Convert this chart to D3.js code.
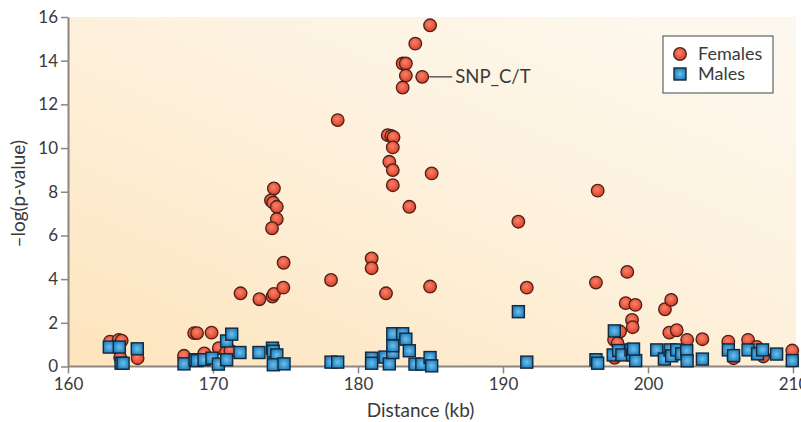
<!DOCTYPE html>
<html>
<head>
<meta charset="utf-8">
<script src="https://cdn.jsdelivr.net/npm/d3@7"></script>
<style>
  body { margin: 0; background: #fff; }
  text { font-family: Lato, "Open Sans", sans-serif; fill: #3a3a3a; }
</style>
</head>
<body>
<div id="chart"></div>
<script>
var svgWidth = 801;
var svgHeight = 422;

var margin = { top: 17, right: 8, bottom: 55, left: 68 };

// females: distance (kb), -log(p)
var femaleX = [162.9, 163.5, 163.7, 163.6, 164.8, 168.0, 168.7, 168.9, 169.9, 169.4, 170.4, 170.9, 171.2,
  171.9, 173.2, 174.1, 174.2, 174.85, 174.2, 174.0, 174.15, 174.4, 174.4, 174.07, 174.87,
  178.6, 178.14, 180.94, 180.94, 181.93, 182.05, 182.3, 182.45, 182.4, 182.16, 182.4, 182.4,
  183.08, 183.3, 183.3, 183.08, 183.54, 183.95, 184.43, 184.97, 185.08, 184.97,
  191.06, 191.64, 196.53, 196.41, 197.66, 197.9, 197.7, 198.07, 198.46, 198.57, 198.9, 198.94, 199.13,
  201.17, 201.47, 201.6, 201.98, 202.7, 203.75, 205.54, 205.9, 206.9, 207.5, 207.95, 209.95];
var femaleY = [1.14, 1.22, 1.18, 0.4, 0.38, 0.49, 1.53, 1.53, 1.55, 0.6, 0.84, 0.64, 0.72,
  3.35, 3.08, 3.2, 3.32, 3.61, 8.15, 7.6, 7.5, 7.31, 6.75, 6.33, 4.75,
  11.28, 3.96, 4.95, 4.5, 3.35, 10.59, 10.55, 10.5, 10.03, 9.37, 8.99, 8.3,
  13.87, 13.87, 13.32, 12.77, 7.31, 14.78, 13.26, 15.62, 8.84, 3.66,
  6.63, 3.61, 8.05, 3.84, 1.22, 1.07, 0.4, 1.6, 2.9, 4.33, 2.13, 1.8, 2.82,
  2.62, 1.55, 3.05, 1.66, 1.22, 1.25, 1.14, 0.38, 1.22, 0.9, 0.46, 0.73];

// males: distance (kb), -log(p)
var maleX = [162.85, 163.54, 163.66, 163.8, 164.78, 168.0, 168.76, 168.9, 169.38, 169.93, 170.37, 170.94,
  170.94, 171.29, 171.86, 173.17, 174.1, 174.15, 174.4, 174.16, 174.9,
  178.14, 178.6, 180.94, 180.94, 181.86, 182.16, 182.4, 182.4, 182.4, 183.08, 183.3, 183.54,
  183.93, 184.4, 184.97, 185.08,
  191.06, 191.64, 196.41, 196.53, 197.68, 197.6, 197.97, 198.2, 198.83, 198.94, 199.15, 199.0,
  200.6, 201.13, 201.52, 201.63, 201.98, 202.32, 202.67, 202.7, 203.75, 205.54, 205.9, 206.9,
  207.56, 207.9, 208.87, 209.95];
var maleY = [0.89, 0.89, 0.15, 0.15, 0.81, 0.12, 0.31, 0.27, 0.31, 0.38, 0.11, 0.31,
  1.17, 1.48, 0.64, 0.64, 0.84, 0.7, 0.53, 0.08, 0.12,
  0.2, 0.2, 0.38, 0.15, 0.43, 0.12, 0.64, 0.95, 1.5, 1.5, 1.25, 0.72,
  0.11, 0.11, 0.41, 0.03,
  2.51, 0.2, 0.31, 0.15, 1.63, 0.53, 0.73, 0.53, 0.76, 0.53, 0.27, 0.8,
  0.76, 0.34, 0.76, 0.49, 0.76, 0.58, 0.72, 0.26, 0.34, 0.76, 0.5, 0.76,
  0.58, 0.76, 0.57, 0.27];

var xTicks = [160, 170, 180, 190, 200, 210];
var yTicks = [0, 2, 4, 6, 8, 10, 12, 14, 16];

var width = 725;
var height = svgHeight - margin.top - margin.bottom - 0.5;

var svg = d3.select("#chart")
  .append("svg")
  .attr("width", svgWidth)
  .attr("height", svgHeight);

var defs = svg.append("defs");

var bg = defs.append("linearGradient").attr("id", "bg")
  .attr("x1", "0").attr("y1", "1").attr("x2", "0.9").attr("y2", "0");
bg.append("stop").attr("offset", "0").attr("stop-color", "#fde4bd");
bg.append("stop").attr("offset", "0.55").attr("stop-color", "#fdf1dc");
bg.append("stop").attr("offset", "1").attr("stop-color", "#fdf8ef");

var redG = defs.append("radialGradient").attr("id", "redG")
  .attr("cx", "0.45").attr("cy", "0.4").attr("r", "0.6");
redG.append("stop").attr("offset", "0").attr("stop-color", "#f8836a");
redG.append("stop").attr("offset", "1").attr("stop-color", "#dc3d26");

var blueG = defs.append("radialGradient").attr("id", "blueG")
  .attr("cx", "0.5").attr("cy", "0.5").attr("r", "0.6");
blueG.append("stop").attr("offset", "0").attr("stop-color", "#6fc0ec");
blueG.append("stop").attr("offset", "1").attr("stop-color", "#1677b8");

var chart = svg.append("g")
  .attr("transform", `translate(${margin.left}, ${margin.top})`);

var x = d3.scaleLinear().domain([160, 210]).range([0, width]);
var y = d3.scaleLinear().domain([0, 16]).range([height, 0]);

chart.append("rect")
  .attr("x", 0).attr("y", 0)
  .attr("width", width + 3)
  .attr("height", height)
  .attr("fill", "url(#bg)");

var xAxis = chart.append("g")
  .attr("transform", `translate(0, ${height})`)
  .call(d3.axisBottom(x).tickValues(xTicks).tickSize(7).tickSizeOuter(0).tickPadding(4));

var yAxis = chart.append("g")
  .call(d3.axisLeft(y).tickValues(yTicks).tickSize(7).tickSizeOuter(0).tickPadding(3));

[xAxis, yAxis].forEach(function(a) {
  a.select(".domain").attr("stroke", "#8c8580").attr("stroke-width", 2);
  a.selectAll(".tick line").attr("stroke", "#8c8580").attr("stroke-width", 1.5);
  a.selectAll(".tick text").attr("font-size", "17px").attr("fill", "#444")
    .style("font-family", "Lato, sans-serif");
});
xAxis.select(".domain").attr("d", `M0,0H${width + 3}`);

var females = femaleX.map((d, i) => ({ x: d, y: femaleY[i] }));
var males = maleX.map((d, i) => ({ x: d, y: maleY[i] }));

chart.selectAll("circle.fem").data(females).enter()
  .append("circle")
  .attr("class", "fem")
  .attr("cx", d => x(d.x))
  .attr("cy", d => y(d.y))
  .attr("r", 6.3)
  .attr("fill", "url(#redG)")
  .attr("stroke", "#4a2018")
  .attr("stroke-width", 1.3);

var sq = 12;
chart.selectAll("rect.male").data(males).enter()
  .append("rect")
  .attr("class", "male")
  .attr("x", d => x(d.x) - sq / 2)
  .attr("y", d => y(d.y) - sq / 2)
  .attr("width", sq)
  .attr("height", sq)
  .attr("fill", "url(#blueG)")
  .attr("stroke", "#14283a")
  .attr("stroke-width", 1.4);

// SNP annotation
var snp = { x: 184.43, y: 13.26 };
chart.append("line")
  .attr("x1", x(snp.x) + 7).attr("x2", x(snp.x) + 30)
  .attr("y1", y(snp.y)).attr("y2", y(snp.y))
  .attr("stroke", "#333").attr("stroke-width", 1.2);
chart.append("text")
  .attr("x", x(snp.x) + 33)
  .attr("y", y(snp.y))
  .attr("dy", "0.35em")
  .attr("font-size", "18.5px")
  .text("SNP_C/T");

// legend
var legend = svg.append("g").attr("transform", "translate(663, 36)");
legend.append("rect")
  .attr("width", 110).attr("height", 57)
  .attr("fill", "#fff").attr("stroke", "#444").attr("stroke-width", 1);
legend.append("circle")
  .attr("cx", 17).attr("cy", 18).attr("r", 6.3)
  .attr("fill", "url(#redG)").attr("stroke", "#4a2018").attr("stroke-width", 1.3);
legend.append("rect")
  .attr("x", 11).attr("y", 32).attr("width", 12).attr("height", 12)
  .attr("fill", "url(#blueG)").attr("stroke", "#14283a").attr("stroke-width", 1.4);
legend.append("text").attr("x", 35).attr("y", 18).attr("dy", "0.35em")
  .attr("font-size", "18px").text("Females");
legend.append("text").attr("x", 35).attr("y", 38).attr("dy", "0.35em")
  .attr("font-size", "18px").text("Males");

// axis titles
svg.append("text")
  .attr("transform", `translate(25, ${margin.top + height / 2 + 2}) rotate(-90)`)
  .attr("text-anchor", "middle")
  .attr("font-size", "19px")
  .text("\u2013log(p-value)");

svg.append("text")
  .attr("x", margin.left + width / 2 - 10)
  .attr("y", 417)
  .attr("text-anchor", "middle")
  .attr("font-size", "19px")
  .text("Distance (kb)");
</script>
</body>
</html>
